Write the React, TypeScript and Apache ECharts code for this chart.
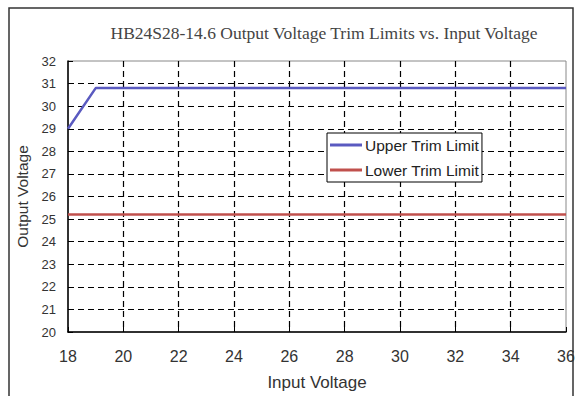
import React, { useEffect, useRef } from "react";
import * as echarts from "echarts";

const titleText = "HB24S28-14.6 Output Voltage Trim Limits vs. Input Voltage";
const xAxisName = "Input Voltage";
const yAxisName = "Output Voltage";
const upperName = "Upper Trim Limit";
const lowerName = "Lower Trim Limit";
const upperX = [18, 19, 36];
const upperY = [29, 30.8, 30.8];
const lowerX = [18, 36];
const lowerY = [25.2, 25.2];

const xLineColors = ["rgba(0,0,0,0)", "#000", "#000", "#000", "#000", "#000", "#000", "#000", "#000", "rgba(0,0,0,0)"];
const yLineColors = ["rgba(0,0,0,0)", "#000", "#000", "#000", "#000", "#000", "#000", "#000", "#000", "#000", "#000", "#000", "rgba(0,0,0,0)"];

export default function App() {
  const ref = useRef<HTMLDivElement>(null);
  useEffect(() => {
    document.body.style.margin = "0";
    const chart = echarts.init(ref.current!, null, { renderer: "svg" });
    const font = "Arial, 'Liberation Sans', sans-serif";
    chart.setOption({
      animation: false,
      backgroundColor: "#fff",
      textStyle: { fontFamily: font },
      graphic: [
        {
          type: "rect",
          shape: { x: 9, y: 8, width: 564, height: 400 },
          style: { fill: "none", stroke: "#333", lineWidth: 1.5 },
          silent: true,
        },
        {
          type: "text",
          x: 324,
          y: 33,
          style: {
            text: titleText,
            fontFamily: "'Times New Roman', 'Liberation Serif', serif",
            fontSize: 17.5,
            fill: "#444",
            align: "center",
            verticalAlign: "middle",
          },
        },
      ],
      grid: { left: 68, top: 61, right: 18, bottom: 63, show: true, borderColor: "#888", borderWidth: 1 },
      legend: {
        show: true,
        orient: "vertical",
        left: 327,
        top: 133,
        padding: [4, 3, 4, 3],
        itemGap: 9,
        itemWidth: 32,
        itemHeight: 3,
        icon: "rect",
        backgroundColor: "#fff",
        borderColor: "#000",
        borderWidth: 1,
        borderRadius: 0,
        textStyle: { fontSize: 15.5, color: "#222", fontFamily: font, padding: [0, 0, 0, -2] },
        data: [upperName, lowerName],
      },
      xAxis: {
        type: "value",
        min: 18,
        max: 36,
        interval: 2,
        name: xAxisName,
        nameLocation: "middle",
        nameGap: 42,
        nameTextStyle: { fontSize: 17, color: "#333", verticalAlign: "top" },
        axisLine: { show: true, lineStyle: { color: "#000", width: 1.5 } },
        axisTick: { show: true, inside: true, length: 5, lineStyle: { color: "#000" } },
        axisLabel: { fontSize: 16, color: "#333", margin: 16 },
        splitLine: { show: true, lineStyle: { color: xLineColors, type: [6, 4], width: 1.2 } },
      },
      yAxis: {
        type: "value",
        min: 20,
        max: 32,
        interval: 1,
        name: yAxisName,
        nameLocation: "middle",
        nameGap: 36,
        nameTextStyle: { fontSize: 15.5, color: "#333" },
        axisLine: { show: true, lineStyle: { color: "#000", width: 1.5 } },
        axisTick: { show: true, inside: true, length: 5, lineStyle: { color: "#000" } },
        axisLabel: { fontSize: 13, color: "#333", margin: 12 },
        splitLine: { show: true, lineStyle: { color: yLineColors, type: [6, 4], width: 1.2 } },
      },
      series: [
        {
          name: upperName,
          type: "line",
          showSymbol: false,
          symbol: "none",
          data: upperX.map((x, i) => [x, upperY[i]]),
          lineStyle: { color: "#5a5ac0", width: 2.5 },
          itemStyle: { color: "#5a5ac0" },
          z: 5,
        },
        {
          name: lowerName,
          type: "line",
          showSymbol: false,
          symbol: "none",
          data: lowerX.map((x, i) => [x, lowerY[i]]),
          lineStyle: { color: "#c0504d", width: 2.5 },
          itemStyle: { color: "#c0504d" },
          z: 5,
        },
      ],
    });
    return () => chart.dispose();
  }, []);
  return <div ref={ref} style={{ width: 584, height: 396 }} />;
}
